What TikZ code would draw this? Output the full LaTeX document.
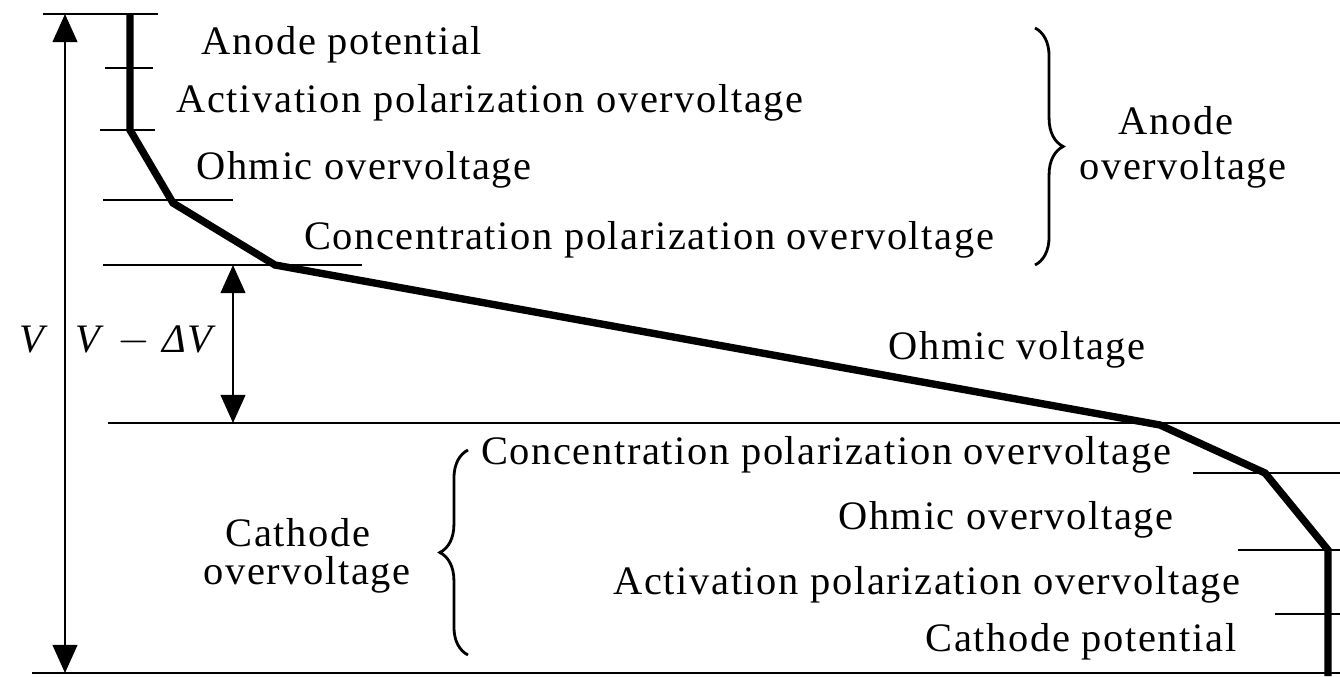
\documentclass[tikz,border=0pt]{standalone}
\usepackage[no-math]{fontspec}
\setmainfont{Liberation Serif}[LetterSpace=4]
\usetikzlibrary{arrows.meta,decorations.pathreplacing}
\begin{document}
\begin{tikzpicture}[x=0.01cm,y=-0.01cm,
  rule/.style={line width=0.7pt},
  curve/.style={line width=2.1pt, line join=miter},
  lab/.style={font=\fontsize{11.5}{13}\selectfont, inner sep=0pt, text height=8pt, text depth=2.5pt},
  dimarrow/.style={line width=0.7pt, {Triangle[length=8pt,width=7pt]}-{Triangle[length=8pt,width=7pt]}},
  brc/.style={line width=0.8pt, decorate, decoration={brace, amplitude=8pt}}]
\useasboundingbox (0,0) rectangle (1340,676);
% horizontal rules
\coordinate (h0a) at (43,14);   \coordinate (h0b) at (158,14);
\coordinate (h1a) at (105,68);  \coordinate (h1b) at (153,68);
\coordinate (h2a) at (100,130); \coordinate (h2b) at (155,130);
\coordinate (h3a) at (103,200); \coordinate (h3b) at (233,200);
\coordinate (h4a) at (103,265); \coordinate (h4b) at (362,265);
\coordinate (h5a) at (108,423); \coordinate (h5b) at (1340,423);
\coordinate (h6a) at (1193,473);\coordinate (h6b) at (1340,473);
\coordinate (h7a) at (1238,550);\coordinate (h7b) at (1340,550);
\coordinate (h8a) at (1275,614);\coordinate (h8b) at (1340,614);
\coordinate (h9a) at (32,673);  \coordinate (h9b) at (1340,673);
\foreach \i in {0,...,9} \draw[rule] (h\i a) -- (h\i b);
% thick voltage curve
\coordinate (c0) at (130,14);
\coordinate (c1) at (130,130);
\coordinate (c2) at (173,203);
\coordinate (c3) at (275,265);
\coordinate (c4) at (1160,425);
\coordinate (c5) at (1265,473);
\coordinate (c6) at (1328,550);
\coordinate (c7) at (1328,676);
\draw[curve] (c0) -- (c1) -- (c2) -- (c3) -- (c4) -- (c5) -- (c6) -- (c7);
% dimension arrows
\coordinate (vt) at (65,14);  \coordinate (vb) at (65,673);
\draw[dimarrow] (vt) -- (vb);
\coordinate (dt) at (233,265); \coordinate (db) at (233,423);
\draw[dimarrow] (dt) -- (db);
\node[lab] (lV) at (32,343) {\itshape V};
\node[lab] (lVd) at (144,343) {\itshape V\/\ $-$\ ΔV};
% braces
\coordinate (ba1) at (1035,28); \coordinate (ba2) at (1035,265);
\draw[brc] (ba1) -- (ba2);
\coordinate (bc1) at (468,655); \coordinate (bc2) at (468,450);
\draw[brc] (bc1) -- (bc2);
% anode labels
\node[lab] (a1) at (342,45)  {Anode potential};
\node[lab] (a2) at (490,103) {Activation polarization overvoltage};
\node[lab] (a3) at (364,170) {Ohmic overvoltage};
\node[lab] (a4) at (649,240) {Concentration polarization overvoltage};
\node[lab] (ao1) at (1176,125) {Anode};
\node[lab] (ao2) at (1183,170) {overvoltage};
\node[lab] (ov) at (1017,350) {Ohmic voltage};
% cathode labels
\node[lab] (k1) at (826,455) {Concentration polarization overvoltage};
\node[lab] (k2) at (1006,520) {Ohmic overvoltage};
\node[lab] (k3) at (927,585) {Activation polarization overvoltage};
\node[lab] (k4) at (1081,642) {Cathode potential};
\node[lab] (ko1) at (298,537) {Cathode};
\node[lab] (ko2) at (307,575) {overvoltage};
\end{tikzpicture}
\end{document}
